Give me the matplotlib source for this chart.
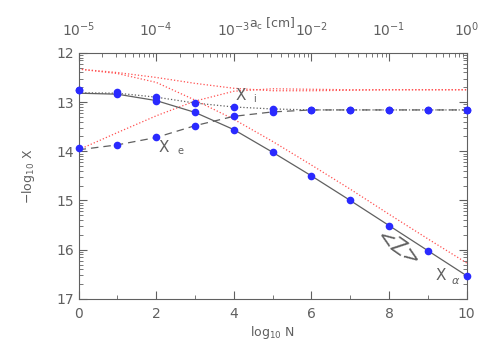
import numpy as np
import matplotlib
matplotlib.use('Agg')
import matplotlib.pyplot as plt
from matplotlib.ticker import FixedLocator, NullFormatter

## values
N = [0, 1, 2, 3, 4, 5, 6, 7, 8, 9, 10]

# blue points
pts_i = [12.75, 12.79, 12.89, 13.01, 13.10, 13.14, 13.16, 13.16, 13.16, 13.16, 13.16]
pts_e = [13.93, 13.87, 13.72, 13.48, 13.29, 13.20, 13.16, 13.16, 13.16, 13.16, 13.16]
pts_tot = [12.76, 12.83, 12.97, 13.21, 13.56, 14.02, 14.50, 15.00, 15.51, 16.02, 16.53]

# black curves
line_tot = [12.82, 12.84, 12.97, 13.21, 13.56, 14.02, 14.50, 15.00, 15.51, 16.02, 16.53]
line_i = [12.81, 12.82, 12.90, 13.02, 13.10, 13.14, 13.16, 13.16, 13.16, 13.16, 13.16]
line_e = [13.97, 13.87, 13.72, 13.48, 13.29, 13.20, 13.16, 13.16, 13.16, 13.16, 13.16]

# red dotted curves
red_1 = [12.33, 12.40, 12.50, 12.62, 12.72, 12.77, 12.77, 12.76, 12.75, 12.75, 12.75]
red_2 = [13.97, 13.62, 13.28, 12.98, 12.78, 12.73, 12.74, 12.75, 12.75, 12.75, 12.75]
red_3 = [12.33, 12.42, 12.60, 12.96, 13.35, 13.80, 14.28, 14.77, 15.28, 15.78, 16.27]

grey = '#606060'
plt.rcParams['font.family'] = 'DejaVu Sans'

fig = plt.figure(figsize=(4.91, 3.5), dpi=100)
ax = fig.add_axes([0.160, 0.146, 0.7905, 0.703])

ax.plot(N, red_1, ':', color='#ff5050', lw=0.9)
ax.plot(N, red_2, ':', color='#ff5050', lw=0.9)
ax.plot(N, red_3, ':', color='#ff5050', lw=0.9)

ax.plot(N, line_tot, '-', color=grey, lw=0.9)
ax.plot(N, line_i, ':', color=grey, lw=0.9)
ax.plot(N, line_e, '--', color=grey, lw=0.9, dashes=(6, 4))

for p in [pts_i, pts_e, pts_tot]:
    ax.plot(N, p, 'o', color='#2a2aff', ms=5.5, mec='none', clip_on=False, zorder=5)

ax.set_xlim(0, 10)
ax.set_ylim(17, 12)

ax.xaxis.set_major_locator(FixedLocator([0, 2, 4, 6, 8, 10]))
ax.xaxis.set_minor_locator(FixedLocator([1, 3, 5, 7, 9]))
ax.yaxis.set_major_locator(FixedLocator([12, 13, 14, 15, 16, 17]))
minors = [k + 1 - np.log10(m) for k in range(12, 17) for m in range(2, 10)]
ax.yaxis.set_minor_locator(FixedLocator(minors))
ax.tick_params(which='both', direction='in', colors=grey, labelsize=10, right=True, top=False)
ax.tick_params(which='major', length=6, width=0.8)
ax.tick_params(which='minor', length=3, width=0.6)
ax.tick_params(axis='x', pad=6)
for s in ax.spines.values():
    s.set_color(grey)
    s.set_linewidth(0.8)

ax.set_xlabel('log$_{10}$ N', color=grey, fontsize=9, labelpad=2)
ax.set_ylabel(r'$-$log$_{10}$ X', color=grey, fontsize=9, labelpad=14)

# top axis: grain size
ax2 = ax.twiny()
ax2.set_xscale('log')
ax2.set_xlim(1e-5, 1)
ax2.tick_params(which='both', direction='in', colors=grey, labelsize=10, pad=10)
ax2.tick_params(which='major', length=6, width=0.8)
ax2.tick_params(which='minor', length=3, width=0.6)
ax2.xaxis.set_minor_formatter(NullFormatter())
for s in ax2.spines.values():
    s.set_visible(False)
fig.text(272 / 491, 1 - 24 / 350, 'a$_{\\rm c}$ [cm]', color=grey, fontsize=9,
         ha='center', va='center')

# curve labels
ax.text(4.05, 12.95, 'X', color=grey, fontsize=11)
ax.text(4.5, 13.0, 'i', color=grey, fontsize=7)
ax.text(2.05, 14.02, 'X', color=grey, fontsize=11)
ax.text(2.55, 14.06, 'e', color=grey, fontsize=7)
ax.text(9.2, 16.62, 'X', color=grey, fontsize=11)
ax.text(9.6, 16.70, r'$\alpha$', color=grey, fontsize=8)
ax.text(8.25, 16.0, '<Z>', color=grey, fontsize=15, rotation=-35,
        ha='center', va='center')

fig.savefig('out.png', dpi=100)
